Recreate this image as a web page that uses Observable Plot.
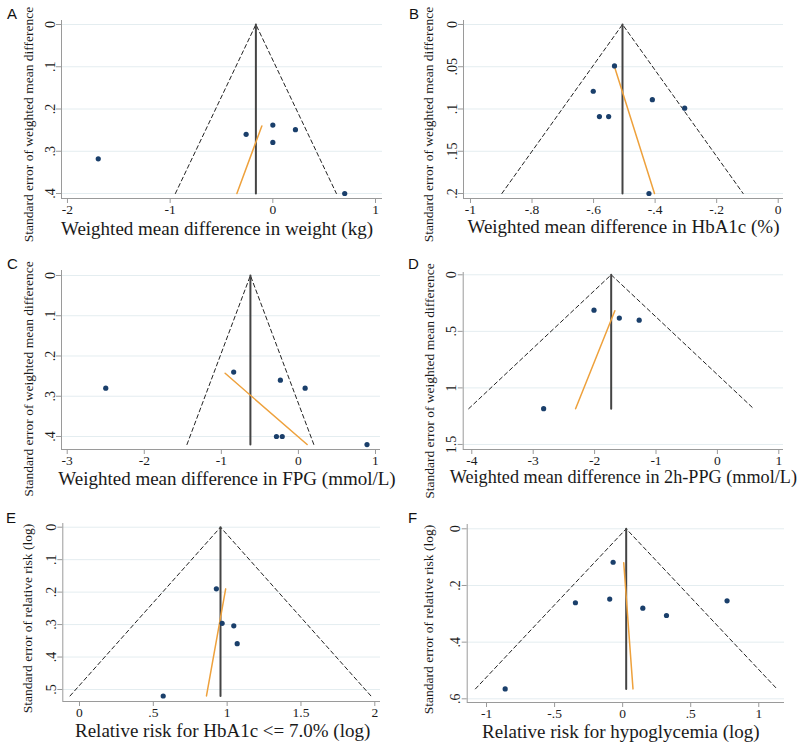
<!DOCTYPE html>
<html>
<head>
<meta charset="utf-8">
<script src="https://cdn.jsdelivr.net/npm/d3@7"></script>
<script src="https://cdn.jsdelivr.net/npm/@observablehq/plot@0.6"></script>
<style>
  html, body { margin: 0; padding: 0; background: #fff; }
  #chart { position: relative; width: 800px; height: 743px; overflow: hidden; background: #fff; }
  .panel { position: absolute; width: 400px; }
  .panel svg { font-family: "Liberation Serif", "Times New Roman", serif !important; overflow: visible !important; background: none !important; max-width: none !important; }
  .panel svg text { font-family: "Liberation Serif", "Times New Roman", serif !important; }
  .letter { position: absolute; font-family: "Liberation Sans", Arial, sans-serif; font-size: 15px; color: #111; }
</style>
</head>
<body>
<div id="chart"></div>
<script>
// ---------- Panel A : weight ----------
const aEffect = [-1.70, -0.26, 0.00, 0.00, 0.22, 0.70];
const aSE     = [0.318, 0.26, 0.238, 0.279, 0.249, 0.40];
const aPooled = -0.165;
const aSEmax  = 0.40;
const aEggerX = [-0.35, -0.107];
const aEggerY = [0.40, 0.24];
const aXTicks = [-2, -1, 0, 1];
const aXTickLabels = ["-2", "-1", "0", "1"];
const aYTicks = [0, 0.1, 0.2, 0.3, 0.4];
const aYTickLabels = ["0", ".1", ".2", ".3", ".4"];

// ---------- Panel B : HbA1c ----------
const bEffect = [-0.532, -0.601, -0.581, -0.551, -0.409, -0.304, -0.42];
const bSE     = [0.049, 0.079, 0.109, 0.109, 0.089, 0.099, 0.20];
const bPooled = -0.506;
const bSEmax  = 0.20;
const bEggerX = [-0.532, -0.402];
const bEggerY = [0.05, 0.20];
const bXTicks = [-1, -0.8, -0.6, -0.4, -0.2, 0];
const bXTickLabels = ["-1", "-.8", "-.6", "-.4", "-.2", "0"];
const bYTicks = [0, 0.05, 0.1, 0.15, 0.2];
const bYTickLabels = ["0", ".05", ".1", ".15", ".2"];

// ---------- Panel C : FPG ----------
const cEffect = [-2.50, -0.84, -0.234, 0.087, -0.285, -0.21, 0.89];
const cSE     = [0.28, 0.24, 0.26, 0.28, 0.40, 0.40, 0.42];
const cPooled = -0.623;
const cSEmax  = 0.42;
const cEggerX = [-0.951, 0.113];
const cEggerY = [0.243, 0.42];
const cXTicks = [-3, -2, -1, 0, 1];
const cXTickLabels = ["-3", "-2", "-1", "0", "1"];
const cYTicks = [0, 0.1, 0.2, 0.3, 0.4];
const cYTickLabels = ["0", ".1", ".2", ".3", ".4"];

// ---------- Panel D : 2h-PPG ----------
const dEffect = [-2.01, -1.597, -1.274, -2.83];
const dSE     = [0.313, 0.383, 0.401, 1.184];
const dPooled = -1.73;
const dSEmax  = 1.184;
const dEggerX = [-2.31, -1.67];
const dEggerY = [1.184, 0.318];
const dXTicks = [-4, -3, -2, -1, 0, 1];
const dXTickLabels = ["-4", "-3", "-2", "-1", "0", "1"];
const dYTicks = [0, 0.5, 1, 1.5];
const dYTickLabels = ["0", ".5", "1", "1.5"];

// ---------- Panel E : HbA1c <= 7.0% ----------
const eEffect = [0.927, 0.966, 1.045, 1.068, 0.567];
const eSE     = [0.19, 0.296, 0.304, 0.359, 0.52];
const ePooled = 0.955;
const eSEmax  = 0.52;
const eEggerX = [0.86, 0.99];
const eEggerY = [0.52, 0.19];
const eXTicks = [0, 0.5, 1, 1.5, 2];
const eXTickLabels = ["0", ".5", "1", "1.5", "2"];
const eYTicks = [0, 0.1, 0.2, 0.3, 0.4, 0.5];
const eYTickLabels = ["0", ".1", ".2", ".3", ".4", ".5"];

// ---------- Panel F : hypoglycemia ----------
const fEffect = [-0.07, -0.347, -0.095, 0.148, 0.322, 0.767, -0.863];
const fSE     = [0.118, 0.261, 0.248, 0.28, 0.306, 0.254, 0.565];
const fPooled = 0.026;
const fSEmax  = 0.565;
const fEggerX = [0.008, 0.076];
const fEggerY = [0.12, 0.565];
const fXTicks = [-1, -0.5, 0, 0.5, 1];
const fXTickLabels = ["-1", "-.5", "0", ".5", "1"];
const fYTicks = [0, 0.2, 0.4, 0.6];
const fYTickLabels = ["0", ".2", ".4", ".6"];

const panels = [
  {letter: "A", left: 0, top: 0, w: 400, h: 243, mL: 61, mR: 18, mT: 20, mB: 45,
   xDomain: [-2.058, 1.068], yDomain: [-0.0095, 0.4118],
   effect: aEffect, se: aSE, pooled: aPooled, seMax: aSEmax, eggX: aEggerX, eggY: aEggerY,
   xTicks: aXTicks, xTickLabels: aXTickLabels, yTicks: aYTicks, yTickLabels: aYTickLabels,
   xLabel: "Weighted mean difference in weight (kg)", yLabel: "Standard error of weighted mean difference",
   xlSize: 19, xlDx: -5, xlDy: 30, ylDx: -33, ylDy: 15, letterX: 7, letterY: 5},
  {letter: "B", left: 400, top: 0, w: 400, h: 243, mL: 63, mR: 17, mT: 20, mB: 45,
   xDomain: [-1.0227, 0.0172], yDomain: [-0.0047, 0.2059],
   effect: bEffect, se: bSE, pooled: bPooled, seMax: bSEmax, eggX: bEggerX, eggY: bEggerY,
   xTicks: bXTicks, xTickLabels: bXTickLabels, yTicks: bYTicks, yTickLabels: bYTickLabels,
   xLabel: "Weighted mean difference in HbA1c (%)", yLabel: "Standard error of weighted mean difference",
   xlSize: 19, xlDx: 0, xlDy: 28, ylDx: -35, ylDy: 15, letterX: 409, letterY: 5},
  {letter: "C", left: 0, top: 243, w: 400, h: 243, mL: 61, mR: 20, mT: 27, mB: 37,
   xDomain: [-3.074, 1.065], yDomain: [-0.0124, 0.4323],
   effect: cEffect, se: cSE, pooled: cPooled, seMax: cSEmax, eggX: cEggerX, eggY: cEggerY,
   xTicks: cXTicks, xTickLabels: cXTickLabels, yTicks: cYTicks, yTickLabels: cYTickLabels,
   xLabel: "Weighted mean difference in FPG (mmol/L)", yLabel: "Standard error of weighted mean difference",
   xlSize: 19, xlDx: 6, xlDy: 29, ylDx: -33, ylDy: 19, letterX: 7, letterY: 255},
  {letter: "D", left: 400, top: 243, w: 400, h: 243, mL: 62.7, mR: 17, mT: 29, mB: 37,
   xDomain: [-4.140, 1.0765], yDomain: [-0.0203, 1.5446],
   effect: dEffect, se: dSE, pooled: dPooled, seMax: dSEmax, eggX: dEggerX, eggY: dEggerY,
   xTicks: dXTicks, xTickLabels: dXTickLabels, yTicks: dYTicks, yTickLabels: dYTickLabels,
   xLabel: "Weighted mean difference in 2h-PPG (mmol/L)", yLabel: "Standard error of weighted mean difference",
   xlSize: 18.2, xlDx: 0, xlDy: 28, ylDx: -34, ylDy: 20, letterX: 408, letterY: 255},
  {letter: "E", left: 0, top: 486, w: 400, h: 257, mL: 62.3, mR: 20, mT: 37, mB: 42,
   xDomain: [-0.113, 2.0386], yDomain: [-0.0114, 0.537],
   effect: eEffect, se: eSE, pooled: ePooled, seMax: eSEmax, eggX: eEggerX, eggY: eEggerY,
   xTicks: eXTicks, xTickLabels: eXTickLabels, yTicks: eYTicks, yTickLabels: eYTickLabels,
   xLabel: "Relative risk for HbA1c <= 7.0% (log)", yLabel: "Standard error of relative risk (log)",
   xlSize: 19, xlDx: 1, xlDy: 29, ylDx: -35, ylDy: 6, letterX: 6, letterY: 509},
  {letter: "F", left: 400, top: 486, w: 400, h: 257, mL: 66.7, mR: 16, mT: 38, mB: 41,
   xDomain: [-1.142, 1.189], yDomain: [-0.0152, 0.613],
   effect: fEffect, se: fSE, pooled: fPooled, seMax: fSEmax, eggX: fEggerX, eggY: fEggerY,
   xTicks: fXTicks, xTickLabels: fXTickLabels, yTicks: fYTicks, yTickLabels: fYTickLabels,
   xLabel: "Relative risk for hypoglycemia (log)", yLabel: "Standard error of relative risk (log)",
   xlSize: 19, xlDx: -5, xlDy: 29, ylDx: -39, ylDy: 6, letterX: 408, letterY: 509}
];

const NAVY = "#1a3f6b";
const ORANGE = "#eea13c";
const AXIS = "#9a9a9a";
const GRID = "#e4edf0";
const TEXT = "#1a1a1a";
const SERIF = "Liberation Serif";

const root = document.getElementById("chart");

for (const p of panels) {
  const pts = p.effect.map((x, i) => ({x, y: p.se[i]}));
  const funnel = [
    {x: p.pooled - 1.96 * p.seMax, y: p.seMax},
    {x: p.pooled, y: 0},
    {x: p.pooled + 1.96 * p.seMax, y: p.seMax}
  ];
  const pooledLine = [{x: p.pooled, y: 0}, {x: p.pooled, y: p.seMax}];
  const egger = p.eggX.map((x, i) => ({x, y: p.eggY[i]}));
  const xLab = new Map(p.xTicks.map((t, i) => [t, p.xTickLabels[i]]));
  const yLab = new Map(p.yTicks.map((t, i) => [t, p.yTickLabels[i]]));

  const svg = Plot.plot({
    width: p.w, height: p.h,
    marginLeft: p.mL, marginRight: p.mR, marginTop: p.mT, marginBottom: p.mB,
    style: "font-family: 'Liberation Serif', serif; overflow: visible; background: none;",
    x: {domain: p.xDomain, label: null},
    y: {domain: p.yDomain, reverse: true, label: null},
    marks: [
      Plot.gridY(p.yTicks, {stroke: GRID, strokeOpacity: 1, strokeWidth: 1}),
      Plot.ruleX([p.xDomain[0]], {stroke: AXIS, strokeWidth: 1}),
      Plot.ruleY([p.yDomain[1]], {stroke: AXIS, strokeWidth: 1}),
      Plot.axisY(p.yTicks, {anchor: "left", tickRotate: -90, tickSize: 5, tickPadding: 2,
        stroke: AXIS, fill: TEXT, fontSize: 14, fontFamily: SERIF, label: null, tickFormat: d => yLab.get(d)}),
      Plot.axisX(p.xTicks, {anchor: "bottom", tickSize: 5, tickPadding: 1,
        stroke: AXIS, fill: TEXT, fontSize: 13.5, fontFamily: SERIF, label: null, tickFormat: d => xLab.get(d)}),
      Plot.line(funnel, {x: "x", y: "y", stroke: "#222", strokeWidth: 1, strokeDasharray: "4,3"}),
      Plot.line(pooledLine, {x: "x", y: "y", stroke: "#444", strokeWidth: 2}),
      Plot.line(egger, {x: "x", y: "y", stroke: ORANGE, strokeWidth: 1.5}),
      Plot.dot(pts, {x: "x", y: "y", r: 2.6, fill: NAVY, stroke: "none"}),
      Plot.text([p.xLabel], {frameAnchor: "bottom", dx: p.xlDx, dy: p.xlDy, fontSize: p.xlSize, fontFamily: SERIF, fill: TEXT, lineAnchor: "middle"}),
      Plot.text([p.yLabel], {frameAnchor: "left", rotate: -90, dx: p.ylDx, dy: p.ylDy, fontSize: 13.5, fontFamily: SERIF, fill: TEXT, textAnchor: "middle", lineAnchor: "middle"})
    ]
  });
  const wrap = document.createElement("div");
  wrap.className = "panel";
  wrap.style.left = p.left + "px";
  wrap.style.top = p.top + "px";
  wrap.appendChild(svg);
  root.appendChild(wrap);

  const letter = document.createElement("div");
  letter.className = "letter";
  letter.textContent = p.letter;
  letter.style.left = p.letterX + "px";
  letter.style.top = p.letterY + "px";
  root.appendChild(letter);
}
</script>
</body>
</html>
